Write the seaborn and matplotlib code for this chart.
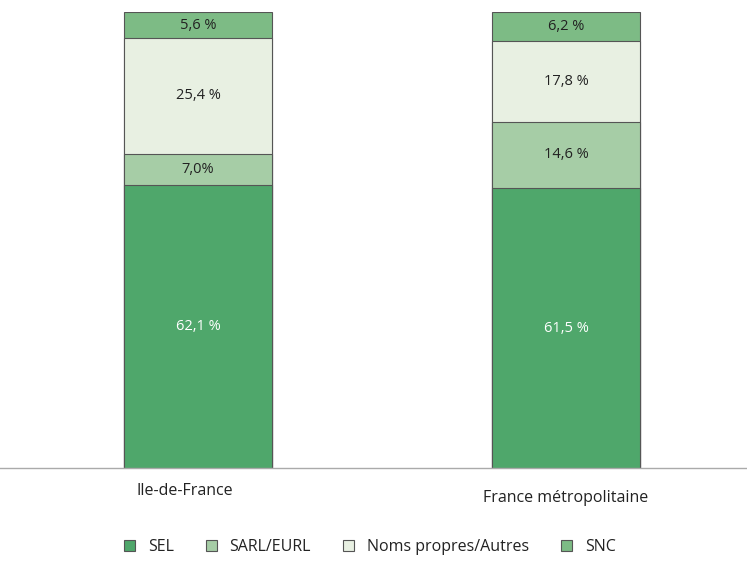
import numpy as np
import pandas as pd
import matplotlib
matplotlib.use("Agg")
import matplotlib.pyplot as plt
import seaborn as sns
from matplotlib.patches import Patch
from matplotlib.transforms import ScaledTranslation

# Données
regions = ["Ile-de-France", "France métropolitaine"]
categories = ["SEL", "SARL/EURL", "Noms propres/Autres", "SNC"]
sel = [62.1, 61.5]
sarl = [7.0, 14.6]
noms = [25.4, 17.8]
snc = [5.6, 6.2]
labels_sel = ["62,1 %", "61,5 %"]
labels_sarl = ["7,0%", "14,6 %"]
labels_noms = ["25,4 %", "17,8 %"]
labels_snc = ["5,6 %", "6,2 %"]

couleurs = ["#4fa76b", "#a6cda6", "#e8f0e2", "#7dbb85"]

sns.set_theme(style="white")
plt.rcParams["font.family"] = ["Open Sans", "DejaVu Sans"]

series = [sel, sarl, noms, snc]
textes = [labels_sel, labels_sarl, labels_noms, labels_snc]
cumul = np.cumsum(np.array(series), axis=0)

fig = plt.figure(figsize=(7.47, 5.63), dpi=100)
ax = fig.add_axes([0, 0.1687, 1, 0.81])

# Barres empilées : on dessine les cumuls du plus haut au plus bas
for i in range(len(categories) - 1, -1, -1):
    df = pd.DataFrame({"region": regions, "val": cumul[i]})
    sns.barplot(data=df, x="region", y="val", color=couleurs[i], width=0.402,
                edgecolor="#555555", linewidth=0.8, saturation=1, ax=ax)

# Étiquettes de valeurs
for i in range(len(categories)):
    base = cumul[i - 1] if i > 0 else np.zeros(2)
    for j in range(len(regions)):
        y = base[j] + series[i][j] / 2
        col = "white" if i == 0 else "#222222"
        ax.text(j, y, textes[i][j], ha="center", va="center", fontsize=10.5, color=col)

ax.set_xlim(-0.538, 1.492)
ax.set_ylim(0, 100.2)
ax.set_xlabel("")
ax.set_ylabel("")
ax.set_yticks([])
ax.tick_params(axis="x", length=0, pad=11, labelsize=11.5, colors="#222222")
for s in ["top", "left", "right"]:
    ax.spines[s].set_visible(False)
ax.spines["bottom"].set_color("#aaaaaa")
ax.spines["bottom"].set_linewidth(1)
lbls = ax.get_xticklabels()
lbls[0].set_transform(lbls[0].get_transform() + ScaledTranslation(-0.13, 0, fig.dpi_scale_trans))
lbls[1].set_transform(lbls[1].get_transform() + ScaledTranslation(0, -0.07, fig.dpi_scale_trans))

handles = [Patch(facecolor=c, edgecolor="#555555", linewidth=0.8) for c in couleurs]
leg = fig.legend(handles, categories, loc="lower center", bbox_to_anchor=(0.495, -0.012),
                 ncol=4, frameon=False, fontsize=11.5, handlelength=0.7, handleheight=0.7,
                 columnspacing=2.0, handletextpad=0.8)
for t in leg.get_texts():
    t.set_color("#222222")

fig.savefig("out.png", dpi=100)
